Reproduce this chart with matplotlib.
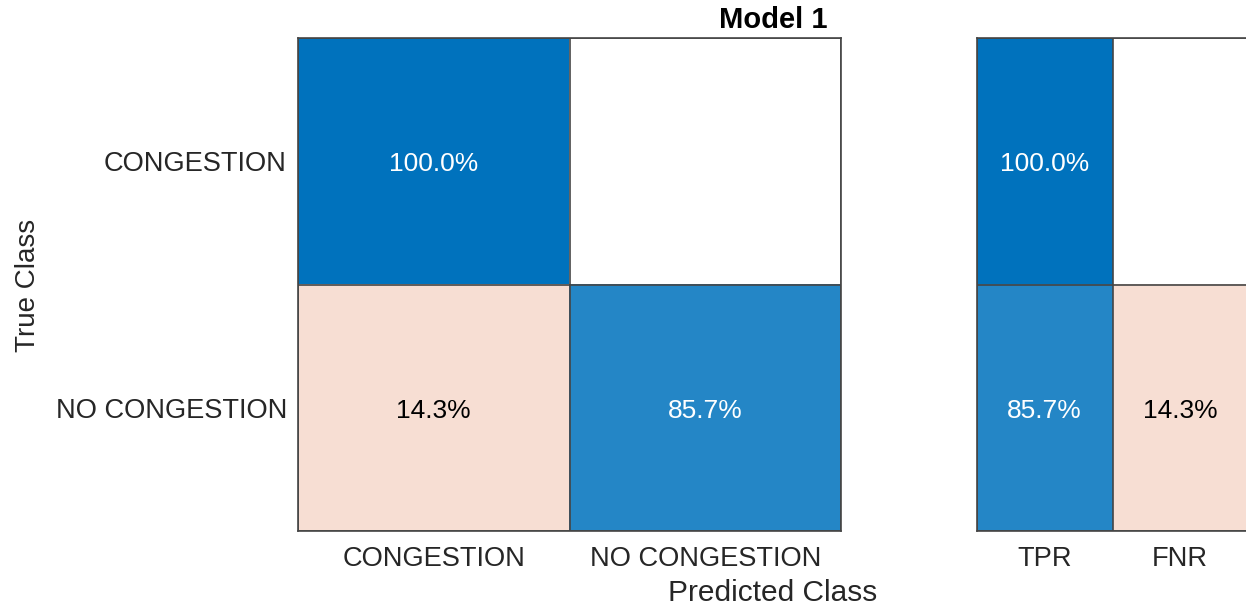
import numpy as np
import matplotlib
matplotlib.use("Agg")
import matplotlib.pyplot as plt
from matplotlib.transforms import offset_copy

plt.rcParams['font.family'] = ['Liberation Sans', 'DejaVu Sans']

# Row-normalised confusion matrix (percent), rows = true class, cols = predicted class
class_names = ["CONGESTION", "NO CONGESTION"]
cm_percent = [[100.0, 0.0],
              [14.3, 85.7]]

# Row summary: true positive rate / false negative rate per class
summary_labels = ["TPR", "FNR"]
summary_percent = [[100.0, 0.0],
                   [85.7, 14.3]]

title = "Model 1"
xlabel = "Predicted Class"
ylabel = "True Class"

DIAG_RGB = np.array([0, 114, 189]) / 255.0
OFF_RGB = np.array([217, 83, 25]) / 255.0
EDGE = "#454545"
TICK_FS = 19.6


def cell_colors(values, good_mask):
    vals = np.asarray(values, dtype=float)
    rgb = np.ones(vals.shape + (3,))
    for i in range(vals.shape[0]):
        for j in range(vals.shape[1]):
            v = vals[i, j]
            if v <= 0:
                continue
            if good_mask[i][j]:
                a = v / 100.0
                base = DIAG_RGB
            else:
                a = min(1.0, v / 75.0)
                base = OFF_RGB
            rgb[i, j] = (1 - a) * np.ones(3) + a * base
    return rgb


def draw_panel(ax, values, good_mask, xlabels, ylabels=None):
    vals = np.asarray(values, dtype=float)
    n_r, n_c = vals.shape
    ax.imshow(cell_colors(values, good_mask), aspect="auto",
              extent=(-0.5, n_c - 0.5, n_r - 0.5, -0.5), interpolation="nearest")
    text_tr = offset_copy(ax.transData, fig=ax.figure, x=0, y=-3, units="dots")
    for i in range(n_r):
        for j in range(n_c):
            v = vals[i, j]
            if v <= 0:
                continue
            color = "white" if good_mask[i][j] else "black"
            ax.text(j, i, f"{v:.1f}%", ha="center", va="center",
                    color=color, fontsize=19, transform=text_tr)
    ax.set_xticks(np.arange(n_c))
    ax.set_xticklabels(xlabels, fontsize=TICK_FS, color="#262626")
    if ylabels is not None:
        ax.set_yticks(np.arange(n_r))
        ax.set_yticklabels(ylabels, fontsize=TICK_FS, color="#262626")
    else:
        ax.set_yticks([])
    ax.set_xticks(np.arange(-0.5, n_c, 1), minor=True)
    ax.set_yticks(np.arange(-0.5, n_r, 1), minor=True)
    ax.grid(which="minor", color=EDGE, linewidth=1.2)
    ax.tick_params(which="both", length=0)
    ax.tick_params(axis="x", pad=11)
    ax.tick_params(axis="y", pad=8)
    for s in ax.spines.values():
        s.set_color(EDGE)
        s.set_linewidth(1.2)
    ax.set_xlim(-0.5, n_c - 0.5)
    ax.set_ylim(n_r - 0.5, -0.5)


fig = plt.figure(figsize=(12.46, 6.08), dpi=100)

ax_main = fig.add_axes([298 / 1246, 1 - 531 / 608, 543 / 1246, 493 / 608])
draw_panel(ax_main, cm_percent, [[True, False], [False, True]],
           class_names, class_names)

ax_sum = fig.add_axes([977 / 1246, 1 - 531 / 608, 271 / 1246, 493 / 608])
draw_panel(ax_sum, summary_percent, [[True, False], [True, False]],
           summary_labels)

fig.text(773 / 1246, 1 - 20 / 608, title, ha="center", va="center",
         fontsize=21, fontweight="bold", color="black")
fig.text(773 / 1246, 1 - 593 / 608, xlabel, ha="center", va="center",
         fontsize=21.5, color="#262626")
fig.text(28 / 1246, 1 - 285 / 608, ylabel, ha="center", va="center",
         rotation=90, fontsize=20, color="#262626")

fig.savefig("out.png", dpi=100)
